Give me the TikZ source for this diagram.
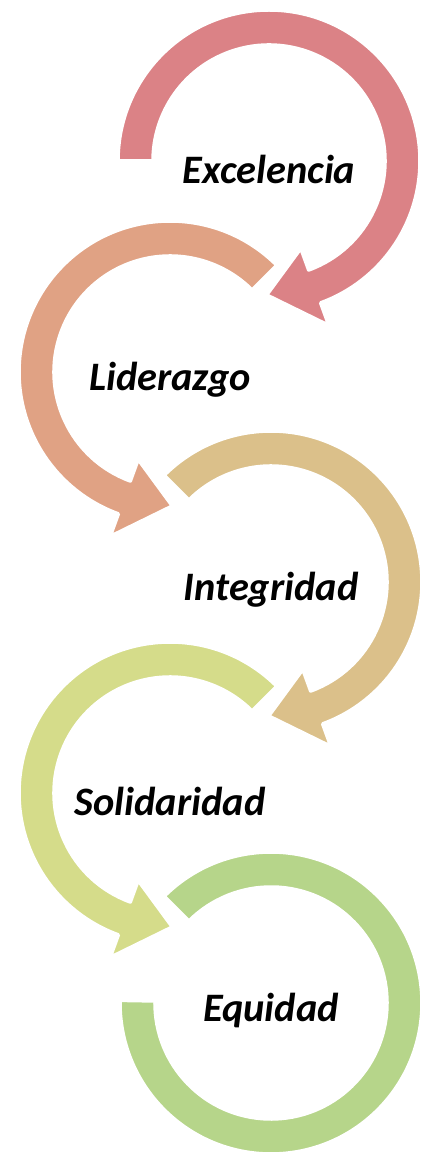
\documentclass[tikz,border=0pt]{standalone}
\usepackage{fontspec}
\setmainfont{Carlito}
\usetikzlibrary{calc}

\definecolor{ringred}{RGB}{219,130,134}
\definecolor{ringorange}{RGB}{224,162,132}
\definecolor{ringtan}{RGB}{219,192,138}
\definecolor{ringyellow}{RGB}{213,220,138}
\definecolor{ringgreen}{RGB}{182,213,138}

\tikzset{
  ring/.style={draw=white, line width=2pt, line join=round},
  valtext/.style={font=\fontsize{23}{27}\selectfont\bfseries\itshape, inner sep=0pt}
}

\begin{document}
\begin{tikzpicture}[x=0.02cm, y=0.02cm]
\useasboundingbox (0,0) rectangle (422,1160);

% centros
\coordinate (c1) at (269,999);
\coordinate (c2) at (170,788);
\coordinate (c3) at (271,578);
\coordinate (c4) at (170,367);
\coordinate (c5) at (271,157);

% anillos
\path[ring, fill=ringred] ($(c1)+(180:151)$) arc[start angle=180, end angle=-70, radius=151]
  -- ($(c1)+(-70:175)$) -- ($(c1)+(-91:134)$) -- ($(c1)+(-70:93)$) -- ($(c1)+(-70:116)$)
  arc[start angle=-70, end angle=180, radius=116] -- cycle;
\path[ring, fill=ringorange] ($(c2)+(45:151)$) arc[start angle=45, end angle=250, radius=151]
  -- ($(c2)+(250:175)$) -- ($(c2)+(271:134)$) -- ($(c2)+(250:93)$) -- ($(c2)+(250:116)$)
  arc[start angle=250, end angle=45, radius=116] -- cycle;
\path[ring, fill=ringtan] ($(c3)+(135:151)$) arc[start angle=135, end angle=-70, radius=151]
  -- ($(c3)+(-70:175)$) -- ($(c3)+(-91:134)$) -- ($(c3)+(-70:93)$) -- ($(c3)+(-70:116)$)
  arc[start angle=-70, end angle=135, radius=116] -- cycle;
\path[ring, fill=ringyellow] ($(c4)+(45:151)$) arc[start angle=45, end angle=250, radius=151]
  -- ($(c4)+(250:175)$) -- ($(c4)+(271:134)$) -- ($(c4)+(250:93)$) -- ($(c4)+(250:116)$)
  arc[start angle=250, end angle=45, radius=116] -- cycle;
\path[ring, fill=ringgreen] ($(c5)+(135:151)$) arc[start angle=135, end angle=-181, radius=151]
  -- ($(c5)+(179:116)$) arc[start angle=-181, end angle=135, radius=116] -- cycle;

% textos
\node[valtext] (exc) at ($(c1)+(0,-8)$) {Excelencia};
\node[valtext] (lid) at ($(c2)+(0,-8)$) {Liderazgo};
\node[valtext] (int) at ($(c3)+(0,-8)$) {Integridad};
\node[valtext] (sol) at ($(c4)+(0,-8)$) {Solidaridad};
\node[valtext] (equ) at ($(c5)+(0,-8)$) {Equidad};
\end{tikzpicture}
\end{document}
